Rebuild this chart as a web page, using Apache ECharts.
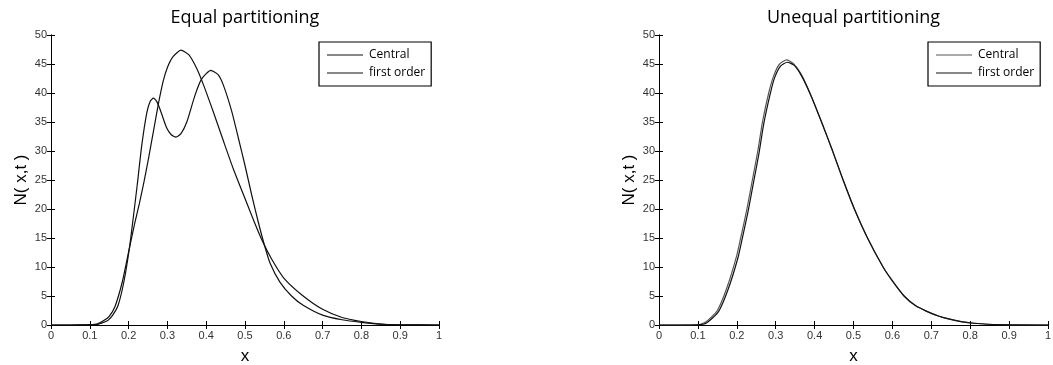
<!DOCTYPE html>
<html>
<head>
<meta charset="utf-8">
<script src="https://cdn.jsdelivr.net/npm/echarts@6/dist/echarts.min.js"></script>
<style>
  html, body { margin: 0; padding: 0; background: #fff; }
  #chart { width: 1053px; height: 365px; }
</style>
</head>
<body>
<div id="chart"></div>
<script>
// Number density N(x,t) for two partitioning schemes, each solved with
// a central and a first-order discretisation.

const xRange = [0, 1];
const xStep = 0.1;
const yRange = [0, 50];
const yStep = 5;

const seriesNames = ['Central', 'first order'];
const panelTitles = ['Equal partitioning', 'Unequal partitioning'];

// Equal partitioning
const eqCentralX = [0, 0.05, 0.1, 0.12, 0.137, 0.15, 0.165, 0.184, 0.2, 0.215, 0.228, 0.24, 0.251, 0.264, 0.277, 0.289, 0.3, 0.315, 0.335, 0.355, 0.375, 0.393, 0.418, 0.444, 0.47, 0.5, 0.525, 0.546, 0.57, 0.6, 0.65, 0.7, 0.75, 0.8, 0.85, 0.9, 1];
const eqCentralY = [0, 0, 0.05, 0.2, 0.8, 1.5, 3.2, 7.5, 12.6, 17.3, 21.0, 24.8, 28.6, 33.4, 38.2, 42.0, 44.4, 46.3, 47.4, 46.6, 44.3, 41.4, 36.8, 31.8, 26.9, 21.8, 17.6, 14.3, 11.2, 8.1, 5.0, 2.7, 1.3, 0.6, 0.15, 0.03, 0];

const eqFirstX = [0, 0.05, 0.1, 0.12, 0.137, 0.147, 0.16, 0.173, 0.188, 0.202, 0.212, 0.222, 0.234, 0.247, 0.256, 0.264, 0.272, 0.281, 0.298, 0.31, 0.322, 0.335, 0.35, 0.371, 0.388, 0.412, 0.43, 0.444, 0.466, 0.483, 0.5, 0.517, 0.534, 0.55, 0.565, 0.59, 0.62, 0.65, 0.7, 0.75, 0.8, 0.856, 0.9, 1];
const eqFirstY = [0, 0, 0.02, 0.1, 0.5, 0.8, 1.8, 3.4, 7.5, 13.2, 18.5, 24.0, 31.0, 36.6, 38.6, 39.1, 38.6, 37.2, 34.0, 32.8, 32.4, 33.0, 35.0, 39.6, 42.4, 43.9, 43.2, 41.4, 36.8, 32.2, 27.5, 22.5, 17.8, 13.8, 10.6, 7.4, 5.0, 3.4, 1.7, 0.9, 0.45, 0.1, 0.02, 0];

// Unequal partitioning
const uneqCentralX = [0, 0.05, 0.1, 0.12, 0.15, 0.175, 0.2, 0.21, 0.226, 0.24, 0.254, 0.266, 0.282, 0.295, 0.31, 0.328, 0.345, 0.365, 0.388, 0.418, 0.446, 0.473, 0.502, 0.536, 0.576, 0.6, 0.63, 0.66, 0.687, 0.72, 0.747, 0.78, 0.81, 0.87, 1];
const uneqCentralY = [0, 0, 0.05, 0.5, 2.5, 6.5, 12, 15, 20, 25, 30, 35, 40, 43, 45, 45.7, 45.1, 43.3, 40, 35, 30, 25, 20, 15, 10, 7.6, 5.0, 3.3, 2.4, 1.5, 1.0, 0.55, 0.3, 0.05, 0];

const uneqFirstX = [0, 0.05, 0.1, 0.123, 0.153, 0.178, 0.203, 0.213, 0.229, 0.243, 0.257, 0.269, 0.285, 0.297, 0.312, 0.33, 0.347, 0.366, 0.389, 0.419, 0.447, 0.474, 0.503, 0.536, 0.576, 0.6, 0.63, 0.66, 0.687, 0.72, 0.747, 0.78, 0.81, 0.87, 1];
const uneqFirstY = [0, 0, 0.03, 0.4, 2.3, 6.2, 11.6, 14.6, 19.6, 24.6, 29.6, 34.6, 39.6, 42.6, 44.6, 45.3, 44.8, 43.0, 39.8, 34.8, 29.9, 24.9, 19.9, 15, 10, 7.6, 5.0, 3.3, 2.4, 1.5, 1.0, 0.55, 0.3, 0.05, 0];

const zip = (xs, ys) => xs.map((x, i) => [x, ys[i]]);

const panels = [
  { left: 51, width: 388, title: panelTitles[0], curves: [zip(eqCentralX, eqCentralY), zip(eqFirstX, eqFirstY)], legendLeft: 319, colors: ['#111', '#111'] },
  { left: 659, width: 389, title: panelTitles[1], curves: [zip(uneqCentralX, uneqCentralY), zip(uneqFirstX, uneqFirstY)], legendLeft: 928, colors: ['#555', '#111'] }
];

const TOP = 35, HEIGHT = 290;
const sans = 'Liberation Sans, Arial, sans-serif';
const tickFont = { fontFamily: sans, fontSize: 11, color: '#333' };
const nameFont = { fontFamily: sans, fontSize: 17, color: '#000' };
const axisLine = { show: true, lineStyle: { color: '#000', width: 1 } };
const tick = { show: true, inside: true, length: 4, lineStyle: { color: '#000', width: 1 } };

const grid = [], xAxis = [], yAxis = [], series = [], legend = [], graphic = [];

panels.forEach((p, i) => {
  // fixed plot box; labels and names are allowed to sit outside it
  grid.push({ left: p.left, top: TOP, width: p.width, height: HEIGHT, containLabel: false, outerBoundsMode: 'none' });

  xAxis.push({
    type: 'value', gridIndex: i, min: xRange[0], max: xRange[1], interval: xStep,
    position: 'bottom', axisLine, axisTick: tick, splitLine: { show: false },
    axisLabel: Object.assign({ margin: 5, formatter: v => String(+v.toFixed(1)) }, tickFont),
    name: 'x', nameLocation: 'middle', nameGap: 23, nameTextStyle: nameFont
  });
  xAxis.push({
    type: 'value', gridIndex: i, min: xRange[0], max: xRange[1], interval: xStep,
    position: 'top', axisLine, axisTick: tick, axisLabel: { show: false }, splitLine: { show: false }
  });
  yAxis.push({
    type: 'value', gridIndex: i, min: yRange[0], max: yRange[1], interval: yStep,
    position: 'left', axisLine, axisTick: tick, splitLine: { show: false },
    axisLabel: Object.assign({ margin: 4 }, tickFont),
    name: 'N( x,t )', nameLocation: 'middle', nameGap: 21, nameRotate: 90, nameTextStyle: nameFont
  });
  yAxis.push({
    type: 'value', gridIndex: i, min: yRange[0], max: yRange[1], interval: yStep,
    position: 'right', axisLine, axisTick: tick, axisLabel: { show: false }, splitLine: { show: false }
  });

  p.curves.forEach((data, k) => {
    series.push({
      type: 'line', name: seriesNames[k], xAxisIndex: i * 2, yAxisIndex: i * 2,
      data, showSymbol: false, symbol: 'none', smooth: 0.2,
      lineStyle: { color: p.colors[k], width: 1.2 }, itemStyle: { color: p.colors[k] },
      silent: true
    });
  });

  legend.push({
    left: p.legendLeft, top: 42, orient: 'vertical',
    data: seriesNames.map((n, k) => ({ name: n, icon: 'rect', itemStyle: { color: p.colors[k] } })),
    itemWidth: 36, itemHeight: 1.2, itemGap: 6,
    padding: [7, 6, 7, 8], borderColor: '#000', borderWidth: 1.2, backgroundColor: '#fff',
    textStyle: { fontFamily: '"Open Sans", Lato, sans-serif', fontSize: 12, color: '#000', padding: [0, 0, 0, 1] },
    selectedMode: false
  });

  graphic.push({
    type: 'text', x: p.left + p.width / 2, y: 18,
    style: { text: p.title, textAlign: 'center', textVerticalAlign: 'middle',
             font: '18px "Open Sans", Lato, sans-serif', fill: '#000' }
  });
});

const chart = echarts.init(document.getElementById('chart'), null, { renderer: 'canvas' });
chart.setOption({
  animation: false,
  backgroundColor: '#fff',
  grid, xAxis, yAxis, series, legend, graphic
});
</script>
</body>
</html>
